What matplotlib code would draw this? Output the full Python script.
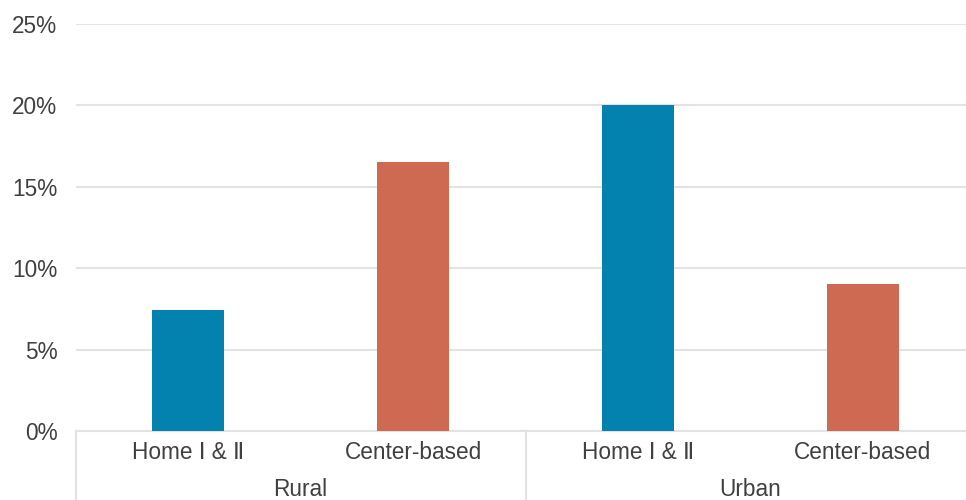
import matplotlib
matplotlib.use("Agg")
import matplotlib.pyplot as plt
from matplotlib.transforms import blended_transform_factory

plt.rcParams['font.family'] = ['Liberation Sans', 'DejaVu Sans']

groups = ["Rural", "Urban"]
categories = ["Home Ⅰ & Ⅱ", "Center-based", "Home Ⅰ & Ⅱ", "Center-based"]
values = [7.45, 16.55, 20.0, 9.0]
colors = ["#0382b0", "#cd6a51", "#0382b0", "#cd6a51"]
yticks = [0, 5, 10, 15, 20, 25]
ytick_labels = ["0%", "5%", "10%", "15%", "20%", "25%"]

text_color = "#404040"
grid_color = "#e3e3e3"

fig = plt.figure(figsize=(9.66, 5.0), dpi=100)
ax = fig.add_axes([75.5/966, 69/500, 900/966, (431-24)/500])

x = list(range(len(values)))
ax.bar(x, values, width=0.32, color=colors, zorder=3)

ax.set_xlim(-0.5, 3.5)
ax.set_ylim(0, 25)
ax.set_yticks(yticks)
ax.set_yticklabels(ytick_labels, fontsize=16.3, color=text_color)
ax.yaxis.grid(True, color=grid_color, linewidth=1.5, zorder=0)
ax.set_axisbelow(True)
ax.tick_params(axis='y', length=0, pad=13)

ax.set_xticks(x)
ax.set_xticklabels(categories, fontsize=16.3, color=text_color)
ax.tick_params(axis='x', length=0, pad=7.5)

for s in ["top", "right", "left"]:
    ax.spines[s].set_visible(False)
ax.spines["bottom"].set_color(grid_color)
ax.spines["bottom"].set_linewidth(1.5)

trans = blended_transform_factory(ax.transData, ax.transAxes)
for sx in [-0.5, 1.5, 3.5]:
    ax.plot([sx, sx], [0, -0.175], transform=trans, color=grid_color,
            linewidth=1.5, clip_on=False)

for i, g in enumerate(groups):
    ax.text(2*i + 0.5, -0.143, g, transform=trans, ha='center', va='center',
            fontsize=16.3, color=text_color)

fig.savefig("out.png", dpi=100)
